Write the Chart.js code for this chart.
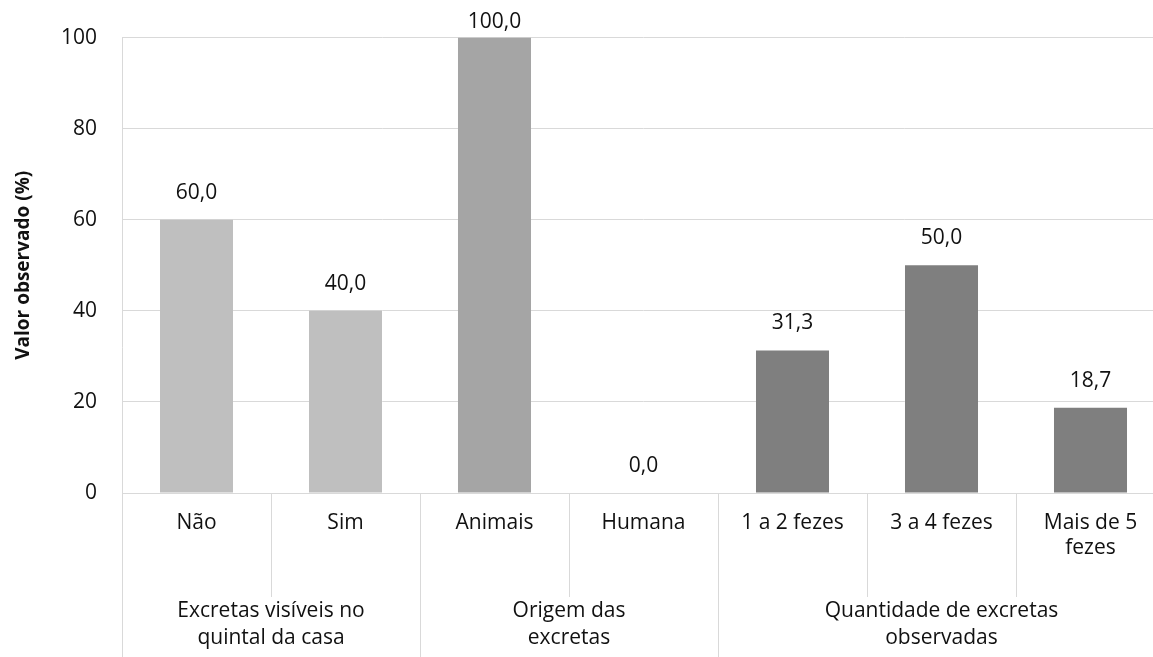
<!DOCTYPE html>
<html>
<head>
<meta charset="utf-8">
<script src="https://cdn.jsdelivr.net/npm/chart.js@4.4.1/dist/chart.umd.min.js"></script>
<style>
  html, body { margin: 0; padding: 0; background: #fff; overflow: hidden; }
  #wrap { width: 1180px; height: 657px; }
</style>
</head>
<body>
<div id="wrap"><canvas id="grafico" width="1180" height="657"></canvas></div>
<script>
// Dados
const categorias = ['Não', 'Sim', 'Animais', 'Humana', '1 a 2 fezes', '3 a 4 fezes', ['Mais de 5', 'fezes']];
const valores = [60.0, 40.0, 100.0, 0.0, 31.3, 50.0, 18.7];
const cores = ['#bfbfbf', '#bfbfbf', '#a5a5a5', '#a5a5a5', '#7f7f7f', '#7f7f7f', '#7f7f7f'];
const grupos = [['Excretas visíveis no', 'quintal da casa'], ['Origem das', 'excretas'], ['Quantidade de excretas', 'observadas']];
const gruposInicio = [0, 2, 4];
const gruposFim = [1, 3, 6];
const ticksY = [0, 20, 40, 60, 80, 100];

const fonte = "'Open Sans', sans-serif";
const corTexto = '#111';
const corLinha = '#d9d9d9';

// Rótulos de dados, divisórias do eixo e grupos
const eixoMultinivel = {
    id: 'eixoMultinivel',
    afterDatasetsDraw(chart) {
        const ctx = chart.ctx;
        const x = chart.scales.x;
        const area = chart.chartArea;
        const meta = chart.getDatasetMeta(0);
        const meia = (x.getPixelForValue(1) - x.getPixelForValue(0)) / 2;

        ctx.save();
        ctx.font = '21px ' + fonte;
        ctx.fillStyle = corTexto;
        ctx.textAlign = 'center';
        ctx.textBaseline = 'middle';
        meta.data.forEach((bar, i) => {
            const y = Math.max(bar.y - 27, 22);
            ctx.fillText(valores[i].toFixed(1).replace('.', ','), bar.x, y);
        });

        ctx.strokeStyle = corLinha;
        ctx.lineWidth = 1;
        // divisórias (nível 1 e nível 2)
        for (let i = 0; i <= categorias.length; i++) {
            const px = Math.round(x.getPixelForValue(i) - meia) + 0.5;
            const fimGrupo = i === 0 || gruposInicio.includes(i) || i === categorias.length;
            ctx.beginPath();
            ctx.moveTo(px, i === 0 ? area.top : area.bottom);
            ctx.lineTo(px, fimGrupo ? chart.height : area.bottom + 104);
            ctx.stroke();
        }

        // rótulos dos grupos (nível 2)
        grupos.forEach((linhas, g) => {
            const cx = (x.getPixelForValue(gruposInicio[g]) + x.getPixelForValue(gruposFim[g])) / 2;
            linhas.forEach((t, k) => {
                ctx.fillText(t, cx, area.bottom + 118 + k * 27);
            });
        });
        ctx.restore();
    }
};

new Chart(document.getElementById('grafico').getContext('2d'), {
    type: 'bar',
    data: {
        labels: categorias,
        datasets: [{
            data: valores,
            backgroundColor: cores,
            categoryPercentage: 1,
            barPercentage: 0.49
        }]
    },
    options: {
        responsive: false,
        animation: false,
        layout: { padding: { top: 37, right: 15, left: 6, bottom: 0 } },
        plugins: {
            legend: { display: false },
            tooltip: { enabled: false }
        },
        scales: {
            x: {
                grid: { display: false },
                border: { display: true, color: corLinha },
                ticks: {
                    color: corTexto,
                    font: { family: fonte, size: 21 },
                    padding: 9,
                    maxRotation: 0,
                    autoSkip: false
                },
                afterFit(scale) { scale.height = 164; }
            },
            y: {
                min: 0,
                max: 100,
                afterBuildTicks(scale) { scale.ticks = ticksY.map(v => ({ value: v })); },
                grid: { color: corLinha, drawTicks: false },
                border: { display: false },
                ticks: {
                    color: corTexto,
                    font: { family: fonte, size: 21 },
                    padding: 25
                },
                title: {
                    display: true,
                    text: 'Valor observado (%)',
                    color: corTexto,
                    font: { family: fonte, size: 19, weight: 'bold' },
                    padding: { top: 6, bottom: 0 }
                },
                afterFit(scale) { scale.width = 116; }
            }
        }
    },
    plugins: [eixoMultinivel]
});
</script>
</body>
</html>
